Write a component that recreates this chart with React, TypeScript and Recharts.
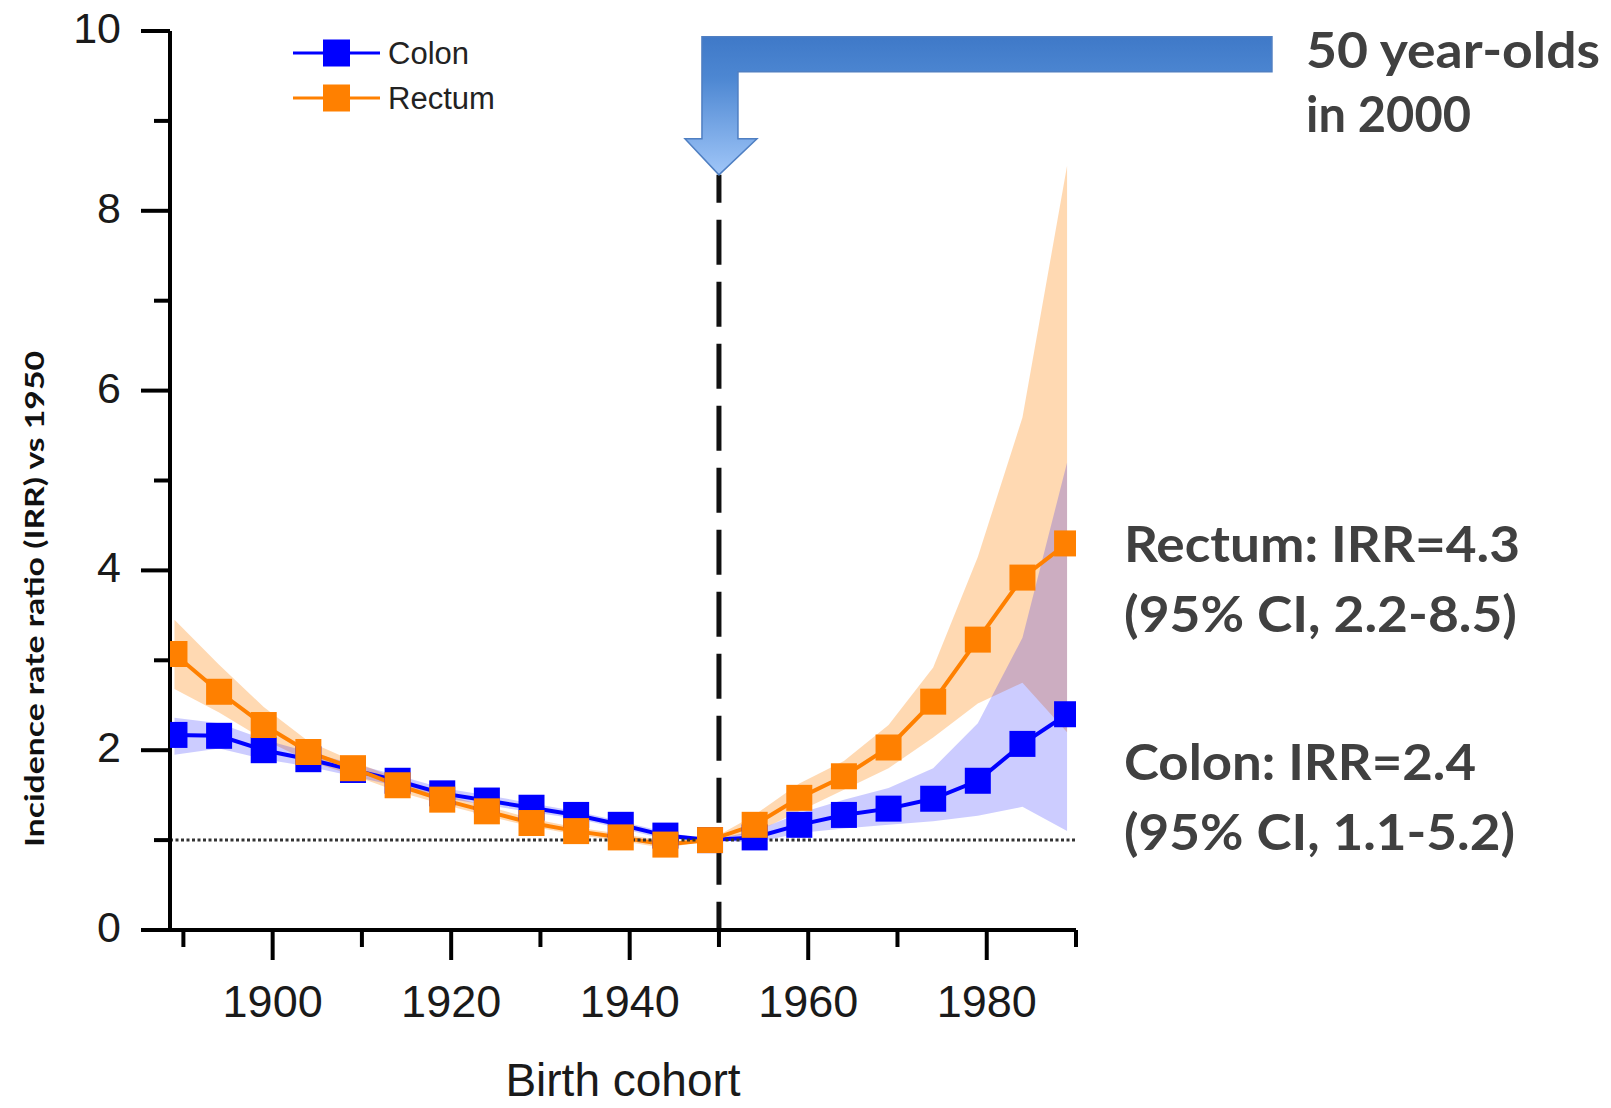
import React from "react";
import {
  ComposedChart,
  XAxis,
  YAxis,
  Area,
  Line,
  ReferenceLine,
  ReferenceDot,
  Legend,
} from "recharts";

const W = 1611;
const H = 1108;

// Birth cohort midpoints (5-year cohorts)
const cohortYears = [
  1889, 1894, 1899, 1904, 1909, 1914, 1919, 1924, 1929, 1934, 1939, 1944,
  1949, 1954, 1959, 1964, 1969, 1974, 1979, 1984, 1989,
];

// Colon: IRR vs 1950 cohort with 95% CI
const colonIrr = [
  2.17, 2.16, 2.0, 1.9, 1.78, 1.66, 1.52, 1.44, 1.36, 1.28, 1.17, 1.05, 1.0,
  1.03, 1.17, 1.28, 1.35, 1.46, 1.66, 2.07, 2.4,
];
const colonLow = [
  1.95, 2.02, 1.9, 1.82, 1.71, 1.6, 1.47, 1.39, 1.31, 1.24, 1.13, 1.01, 1.0,
  0.97, 1.08, 1.13, 1.17, 1.21, 1.27, 1.37, 1.1,
];
const colonHigh = [
  2.36, 2.3, 2.12, 1.98, 1.85, 1.72, 1.58, 1.5, 1.41, 1.32, 1.21, 1.09, 1.0,
  1.1, 1.3, 1.45, 1.58, 1.8, 2.3, 3.25, 5.2,
];

// Rectum: IRR vs 1950 cohort with 95% CI
const rectumIrr = [
  3.07, 2.65, 2.28, 1.98, 1.8, 1.61, 1.45, 1.32, 1.19, 1.1, 1.03, 0.95, 1.0,
  1.17, 1.47, 1.71, 2.03, 2.54, 3.23, 3.92, 4.3,
];
const rectumLow = [
  2.68, 2.42, 2.12, 1.88, 1.72, 1.54, 1.4, 1.27, 1.15, 1.06, 0.99, 0.91, 1.0,
  1.08, 1.32, 1.56, 1.8, 2.14, 2.52, 2.75, 2.2,
];
const rectumHigh = [
  3.45, 2.95, 2.48, 2.1, 1.88, 1.68, 1.51, 1.38, 1.24, 1.14, 1.07, 0.99, 1.0,
  1.28, 1.63, 1.88, 2.28, 2.92, 4.15, 5.7, 8.5,
];

const xTicks = [1890, 1900, 1910, 1920, 1930, 1940, 1950, 1960, 1970, 1980, 1990];
const xLabelled = [1900, 1920, 1940, 1960, 1980];
const yTicks = [0, 1, 2, 3, 4, 5, 6, 7, 8, 9, 10];

const REFERENCE_COHORT = 1950;
const ARROW_TIP = 8.4;

const BLUE = "#0000FF";
const ORANGE = "#FF8000";
const AXIS_FONT = "'Liberation Sans', Arial, sans-serif";
const NOTE_FONT = "Lato, 'Open Sans', sans-serif";

const rows = cohortYears.map((year, i) => ({
  year,
  colon: colonIrr[i],
  rectum: rectumIrr[i],
  colonCI: [colonLow[i], colonHigh[i]],
  rectumCI: [rectumLow[i], rectumHigh[i]],
}));

// x ticks: long marks with labels every 20 years, short ones in between
const CohortTick = (props: any) => {
  const { x, y, payload } = props;
  const major = xLabelled.includes(payload.value);
  return (
    <g>
      <line x1={x} x2={x} y1={y} y2={y + (major ? 30 : 17)} stroke="#000" strokeWidth={4} />
      {major && (
        <text x={x} y={y + 87} textAnchor="middle" fontSize={45} fill="#1a1a1a" fontFamily={AXIS_FONT}>
          {payload.value}
        </text>
      )}
    </g>
  );
};

// y ticks: even values labelled
const RatioTick = (props: any) => {
  const { x, y, payload } = props;
  const major = payload.value % 2 === 0;
  return (
    <g>
      <line x1={x} x2={x - (major ? 29 : 16)} y1={y} y2={y} stroke="#000" strokeWidth={4} />
      {major && (
        <text x={x - 49} y={y + 12} textAnchor="end" fontSize={43} fill="#1a1a1a" fontFamily={AXIS_FONT}>
          {payload.value}
        </text>
      )}
    </g>
  );
};

const squareDot = (color: string) => (p: any) => {
  if (p.cx == null || p.cy == null) return <g key={`d-${p.index}`} />;
  return <rect key={`d-${p.index}`} x={p.cx - 13} y={p.cy - 13} width={26} height={26} fill={color} />;
};

// bent block arrow pointing down at the reference cohort
const BentArrow = (p: any) => {
  const { cx, cy } = p;
  const pts = [
    [cx - 17, cy - 138],
    [cx + 553, cy - 138],
    [cx + 553, cy - 103],
    [cx + 19, cy - 103],
    [cx + 19, cy - 36],
    [cx + 38, cy - 36],
    [cx, cy],
    [cx - 34, cy - 36],
    [cx - 17, cy - 36],
  ]
    .map((q) => q.join(","))
    .join(" ");
  return (
    <g>
      <defs>
        <linearGradient id="arrowFill" gradientUnits="userSpaceOnUse" x1={0} y1={cy - 138} x2={0} y2={cy}>
          <stop offset="0" stopColor="#3F79C8" />
          <stop offset="0.3" stopColor="#4D87D2" />
          <stop offset="1" stopColor="#A0C6F8" />
        </linearGradient>
      </defs>
      <polygon points={pts} fill="url(#arrowFill)" stroke="#4F7FC2" strokeWidth={1.5} />
    </g>
  );
};

const renderLegend = (props: any) => {
  const items = (props.payload ?? []).filter((it: any) => it.type !== "none");
  return (
    <svg width={260} height={120} style={{ overflow: "visible" }}>
      {items.map((it: any, i: number) => {
        const cy = 23 + i * 45;
        return (
          <g key={it.value}>
            <line x1={3} x2={90} y1={cy} y2={cy} stroke={it.color} strokeWidth={3} />
            <rect x={33} y={cy - 13.5} width={27} height={27} fill={it.color} />
            <text x={98} y={cy + 11} fontSize={31} fill="#222" fontFamily={AXIS_FONT}>
              {it.value}
            </text>
          </g>
        );
      })}
    </svg>
  );
};

export default function App() {
  return (
    <div style={{ position: "absolute", left: 0, top: 0, width: W, height: H, background: "#fff" }}>
      <ComposedChart width={W} height={H} data={rows} margin={{ top: 31, right: 535, bottom: 118, left: 70 }}>
        <XAxis
          type="number"
          dataKey="year"
          domain={[1888.5, 1990]}
          ticks={xTicks}
          interval={0}
          allowDataOverflow
          tick={<CohortTick />}
          tickLine={false}
          tickSize={0}
          tickMargin={0}
          height={60}
          axisLine={{ stroke: "#000", strokeWidth: 4 }}
        />
        <YAxis
          type="number"
          domain={[0, 10]}
          ticks={yTicks}
          interval={0}
          tick={<RatioTick />}
          tickLine={false}
          tickSize={0}
          tickMargin={0}
          width={100}
          axisLine={{ stroke: "#000", strokeWidth: 4 }}
        />
        <Area
          type="linear"
          dataKey="rectumCI"
          stroke="none"
          fill={ORANGE}
          fillOpacity={0.3}
          legendType="none"
          activeDot={false}
          isAnimationActive={false}
        />
        <Area
          type="linear"
          dataKey="colonCI"
          stroke="none"
          fill={BLUE}
          fillOpacity={0.2}
          legendType="none"
          activeDot={false}
          isAnimationActive={false}
        />
        <Line
          type="linear"
          dataKey="colon"
          name="Colon"
          stroke={BLUE}
          strokeWidth={4}
          dot={squareDot(BLUE)}
          activeDot={false}
          isAnimationActive={false}
        />
        <Line
          type="linear"
          dataKey="rectum"
          name="Rectum"
          stroke={ORANGE}
          strokeWidth={4}
          dot={squareDot(ORANGE)}
          activeDot={false}
          isAnimationActive={false}
        />
        <ReferenceLine y={1} stroke="#333" strokeWidth={3} strokeDasharray="3 2.5" />
        <ReferenceLine
          segment={[
            { x: REFERENCE_COHORT, y: ARROW_TIP },
            { x: REFERENCE_COHORT, y: 0 },
          ]}
          stroke="#111"
          strokeWidth={5}
          strokeDasharray="45 17"
          strokeDashoffset={17}
        />
        <ReferenceDot x={REFERENCE_COHORT} y={ARROW_TIP} r={0} shape={(p: any) => <BentArrow {...p} />} />
        <Legend
          layout="vertical"
          align="center"
          verticalAlign="middle"
          content={renderLegend}
          wrapperStyle={{ position: "absolute", left: 290, top: 30, width: 260, height: 120 }}
        />
      </ComposedChart>

      <svg width={W} height={H} style={{ position: "absolute", left: 0, top: 0, pointerEvents: "none" }}>
        <text
          x={44}
          y={599}
          transform="rotate(-90, 44, 599)"
          textAnchor="middle"
          fontSize={27}
          fontWeight={700}
          fill="#111"
          fontFamily={NOTE_FONT}
          textLength={496}
          lengthAdjust="spacingAndGlyphs"
        >
          Incidence rate ratio (IRR) vs 1950
        </text>
        <text x={623} y={1096} textAnchor="middle" fontSize={46} fill="#1a1a1a" fontFamily={AXIS_FONT}>
          Birth cohort
        </text>
        <g fontFamily={NOTE_FONT} fontWeight={700} fontSize={50} fill="#404040">
          <text x={1306} y={68} textLength={294} lengthAdjust="spacingAndGlyphs">50 year-olds</text>
          <text x={1306} y={132} textLength={165} lengthAdjust="spacingAndGlyphs">in 2000</text>
          <text x={1124} y={562} textLength={396} lengthAdjust="spacingAndGlyphs">Rectum: IRR=4.3</text>
          <text x={1124} y={632} textLength={393} lengthAdjust="spacingAndGlyphs">(95% CI, 2.2-8.5)</text>
          <text x={1124} y={780} textLength={352} lengthAdjust="spacingAndGlyphs">Colon: IRR=2.4</text>
          <text x={1124} y={850} textLength={391} lengthAdjust="spacingAndGlyphs">(95% CI, 1.1-5.2)</text>
        </g>
      </svg>
    </div>
  );
}
